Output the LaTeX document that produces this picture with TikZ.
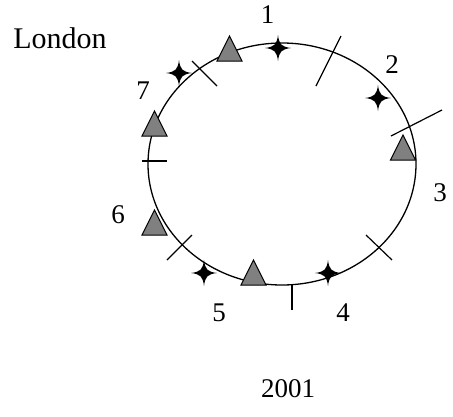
\documentclass[tikz,border=0pt]{standalone}
\usepackage{fontspec}
\setmainfont{Liberation Serif}
\tikzset{
  tri/.pic={\draw[fill=gray, line width=1pt, line join=miter] (-12.5,0) -- (12.5,0) -- (0,-25) -- cycle;},
  star4/.pic={\fill[black] (0,-13) .. controls (1.2,-3.5) and (3.5,-1.2) .. (13,0)
                 .. controls (3.5,1.2) and (1.2,3.5) .. (0,13)
                 .. controls (-1.2,3.5) and (-3.5,1.2) .. (-13,0)
                 .. controls (-3.5,-1.2) and (-1.2,-3.5) .. (0,-13) -- cycle;},
  tick/.style={line width=1.2pt},
  lbl/.style={font=\fontsize{27}{30}\selectfont, inner sep=0pt, anchor=base}
}
\begin{document}
\begin{tikzpicture}[x=1pt,y=-1pt]
\useasboundingbox (0,0) rectangle (453,416);
% ring
\draw[line width=1.3pt] (282,164) ellipse [x radius=134, y radius=121];
% division ticks
\draw[tick] (316,86) -- (341,36);
\draw[tick] (391,136) -- (442,110);
\draw[tick] (366,235) -- (392,260);
\draw[tick] (292,285) -- (292,310);
\draw[tick] (167,260) -- (192,235);
\draw[tick] (142,161) -- (167,161);
\draw[tick] (192,61) -- (217,86);
% triangles
\pic at (229.5,61) {tri};
\pic at (154.5,136) {tri};
\pic at (403,160) {tri};
\pic at (154.5,235) {tri};
\pic at (253.5,285) {tri};
% stars
\pic at (278,48) {star4};
\pic at (378,98) {star4};
\pic at (328,273) {star4};
\pic at (204,273) {star4};
\pic at (179,73) {star4};
% labels
\node[lbl] (l1) at (267.5,23) {1};
\node[lbl] (l2) at (392,73) {2};
\node[lbl] (l3) at (440,201) {3};
\node[lbl] (l4) at (343,321) {4};
\node[lbl] (l5) at (219,321) {5};
\node[lbl] (l6) at (118,223) {6};
\node[lbl] (l7) at (143,99) {7};
\node[lbl, font=\fontsize{30}{33}\selectfont] (london) at (60,48) {London};
\node[lbl] (year) at (288,397) {2001};
\end{tikzpicture}
\end{document}
